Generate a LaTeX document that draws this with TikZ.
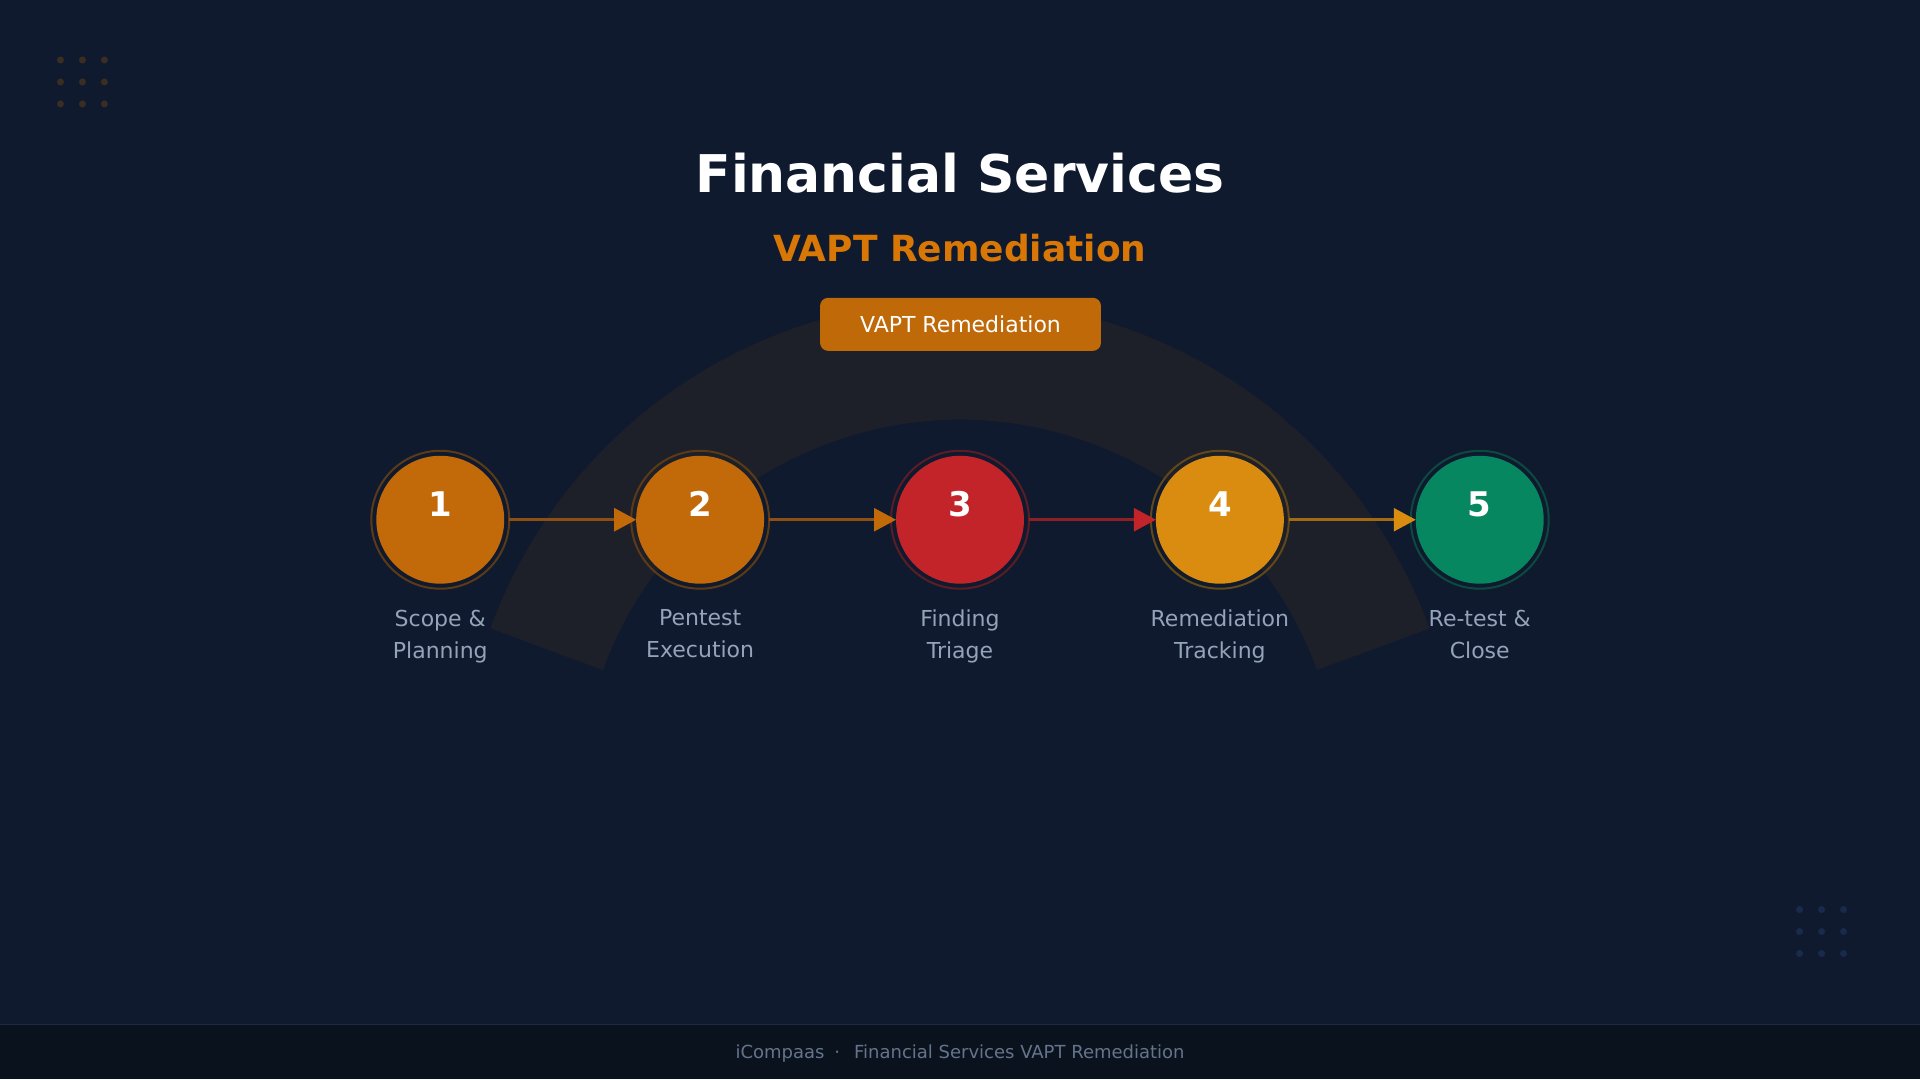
\documentclass[tikz,border=0pt]{standalone}
\usepackage{fontspec}
\setmainfont{DejaVu Sans}
\usepackage{xcolor}
\usetikzlibrary{positioning,arrows.meta}

\definecolor{bgnavy}{HTML}{0F1A2E}
\definecolor{bandgray}{HTML}{1E2029}
\definecolor{footbg}{HTML}{0A121E}
\definecolor{footline}{HTML}{1A2A45}
\definecolor{foottext}{HTML}{64748B}
\definecolor{labelgray}{HTML}{94A3B8}
\definecolor{accent}{HTML}{D97706}
\definecolor{badgeorange}{HTML}{BF6909}
\definecolor{steporange}{HTML}{C2690A}
\definecolor{stepred}{HTML}{C2242A}
\definecolor{stepamber}{HTML}{D98C10}
\definecolor{stepgreen}{HTML}{07875F}
\definecolor{ringorange}{HTML}{5C3A17}
\definecolor{ringred}{HTML}{5A1D27}
\definecolor{ringamber}{HTML}{614818}
\definecolor{ringgreen}{HTML}{0B4A3F}
\definecolor{lineorange}{HTML}{8E5012}
\definecolor{linered}{HTML}{8E1F27}
\definecolor{lineamber}{HTML}{A26A13}
\definecolor{dotbrown}{HTML}{3B2D22}
\definecolor{dotblue}{HTML}{1A2A4A}

\begin{document}
\begin{tikzpicture}[
    x=1pt,y=-1pt,
    node distance=132pt,
    stage/.style={circle,minimum size=128pt,inner sep=0pt,outer sep=0pt},
    ring/.style={line width=2pt},
    num/.style={text=white,font=\bfseries\fontsize{34}{40}\selectfont,anchor=base},
    caption/.style={text=labelgray,font=\fontsize{22}{32}\selectfont,align=center,inner sep=0pt},
    flow/.style={line width=2.5pt,shorten <=5pt}
]

% background and arc band
\fill[bgnavy] (0,0) rectangle (1920,1080);
\draw[bandgray,line width=120pt] (960,800) ++(200:440) arc[start angle=200,end angle=340,radius=440];

% corner dots
\fill[dotbrown] (60,60) circle (3.5) (82,60) circle (3.5) (104,60) circle (3.5)
                (60,82) circle (3.5) (82,82) circle (3.5) (104,82) circle (3.5)
                (60,104) circle (3.5) (82,104) circle (3.5) (104,104) circle (3.5);
\fill[dotblue] (1800,910) circle (3.5) (1822,910) circle (3.5) (1844,910) circle (3.5)
               (1800,932) circle (3.5) (1822,932) circle (3.5) (1844,932) circle (3.5)
               (1800,954) circle (3.5) (1822,954) circle (3.5) (1844,954) circle (3.5);

% headings
\node[text=white,font=\bfseries\fontsize{52}{60}\selectfont,anchor=base] (title) at (960,193) {Financial Services};
\node[text=accent,font=\bfseries\fontsize{36}{42}\selectfont,anchor=base] (subtitle) at (960,262) {VAPT Remediation};
\node[fill=badgeorange,rounded corners=8pt,minimum width=281pt,minimum height=53pt,text=white,font=\fontsize{22}{26}\selectfont] (badge) at (960.5,324.5) {VAPT Remediation};

% stages
\node[stage,fill=steporange] (s1) at (440,520) {};
\node[stage,fill=steporange,right=of s1] (s2) {};
\node[stage,fill=stepred,right=of s2] (s3) {};
\node[stage,fill=stepamber,right=of s3] (s4) {};
\node[stage,fill=stepgreen,right=of s4] (s5) {};

\draw[ring,ringorange] (s1.center) circle (69);
\draw[ring,ringorange] (s2.center) circle (69);
\draw[ring,ringred] (s3.center) circle (69);
\draw[ring,ringamber] (s4.center) circle (69);
\draw[ring,ringgreen] (s5.center) circle (69);

\node[num] (n1) at ([yshift=3pt]s1.center) {1};
\node[num] (n2) at ([yshift=3pt]s2.center) {2};
\node[num] (n3) at ([yshift=3pt]s3.center) {3};
\node[num] (n4) at ([yshift=3pt]s4.center) {4};
\node[num] (n5) at ([yshift=3pt]s5.center) {5};

\draw[flow,lineorange,-{Triangle[length=22pt,width=23pt,color=steporange]}] (s1) -- (s2);
\draw[flow,lineorange,-{Triangle[length=22pt,width=23pt,color=steporange]}] (s2) -- (s3);
\draw[flow,linered,-{Triangle[length=22pt,width=23pt,color=stepred]}] (s3) -- (s4);
\draw[flow,lineamber,-{Triangle[length=22pt,width=23pt,color=stepamber]}] (s4) -- (s5);

\node[caption,below=26pt of s1] (l1) {Scope \&\\Planning};
\node[caption,below=26pt of s2] (l2) {Pentest\\Execution};
\node[caption,below=26pt of s3] (l3) {Finding\\Triage};
\node[caption,below=26pt of s4] (l4) {Remediation\\Tracking};
\node[caption,below=26pt of s5] (l5) {Re-test \&\\Close};

% footer
\fill[footbg] (0,1025) rectangle (1920,1080);
\draw[footline,line width=1pt] (0,1025) -- (1920,1025);
\node[text=foottext,font=\fontsize{18}{22}\selectfont,anchor=base] (footer) at (960,1059) {iCompaas\hspace{10pt}·\hspace{14pt}Financial Services VAPT Remediation};

\end{tikzpicture}
\end{document}
